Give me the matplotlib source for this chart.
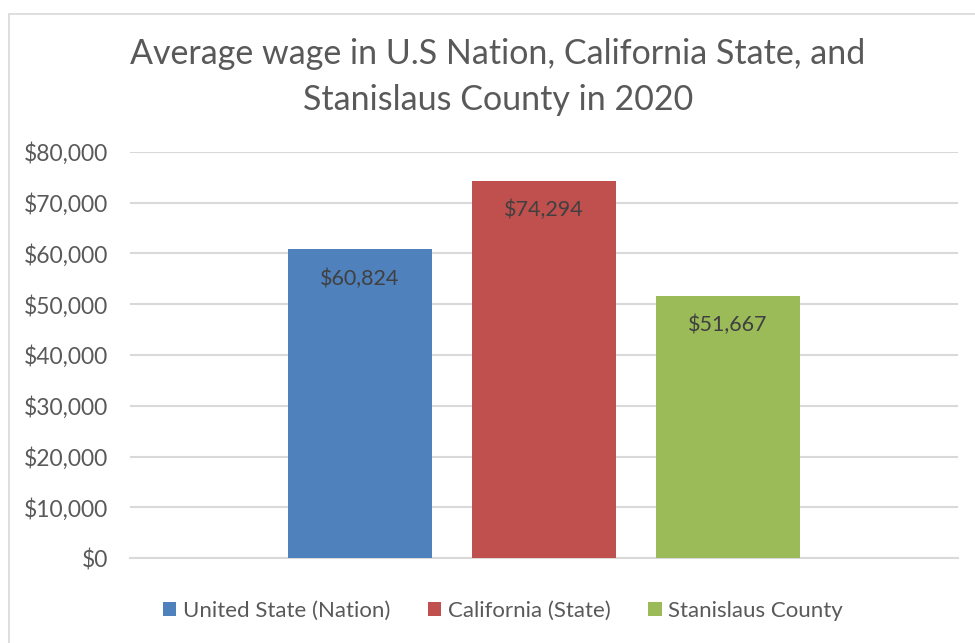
import matplotlib.pyplot as plt
from matplotlib.patches import Rectangle
from matplotlib.ticker import FuncFormatter

plt.rcParams["font.family"] = ["Lato", "DejaVu Sans"]

series = ["United State (Nation)", "California (State)", "Stanislaus County"]
wages = [60824, 74294, 51667]
colors = ["#4f81bd", "#c0504d", "#9bbb59"]
yticks = [0, 10000, 20000, 30000, 40000, 50000, 60000, 70000, 80000]

W, H = 975, 643
fig = plt.figure(figsize=(W / 100, H / 100), dpi=100)

# chart border (Excel style), runs off the right/bottom edge
fig.patches.append(Rectangle((9 / W, -0.1), 1.2, (H - 14) / H + 0.1,
                             transform=fig.transFigure, fill=False,
                             edgecolor="#d9d9d9", linewidth=1.2))

ax = fig.add_axes([130 / W, (H - 558) / H, (958 - 130) / W, (558 - 152) / H])

for i, (name, val, col) in enumerate(zip(series, wages, colors)):
    ax.bar(i, val, width=0.788, color=col, label=name, zorder=3)
    ax.annotate(f"${val:,}", (i, val), xytext=(0, -21), textcoords="offset points",
                ha="center", va="center", fontsize=15.5, color="#404040", zorder=4)

ax.set_xlim(-1.25, 3.25)
ax.set_ylim(0, 80000)
ax.set_yticks(yticks)
ax.yaxis.set_major_formatter(FuncFormatter(lambda v, p: f"${v:,.0f}"))
ax.set_xticks([])
ax.grid(axis="y", color="#d9d9d9", linewidth=1.5, zorder=0)
ax.tick_params(axis="y", length=0, pad=15.8, labelsize=16.5, labelcolor="#595959")
for s in ["top", "right", "left"]:
    ax.spines[s].set_visible(False)
ax.spines["bottom"].set_color("#d9d9d9")
ax.spines["bottom"].set_linewidth(1.5)

fig.text(498 / W, 1 - 77 / H, "Average wage in U.S Nation, California State, and\nStanislaus County in 2020",
         ha="center", va="center", fontsize=24.5, color="#595959", linespacing=1.55)

fig.legend(loc="center", bbox_to_anchor=(503 / W, 1 - 611 / H), ncol=3, frameon=False,
           fontsize=16, labelcolor="#595959", handlelength=0.6, handleheight=0.6,
           handletextpad=0.3, columnspacing=1.7)

fig.savefig("out.png", dpi=100)
